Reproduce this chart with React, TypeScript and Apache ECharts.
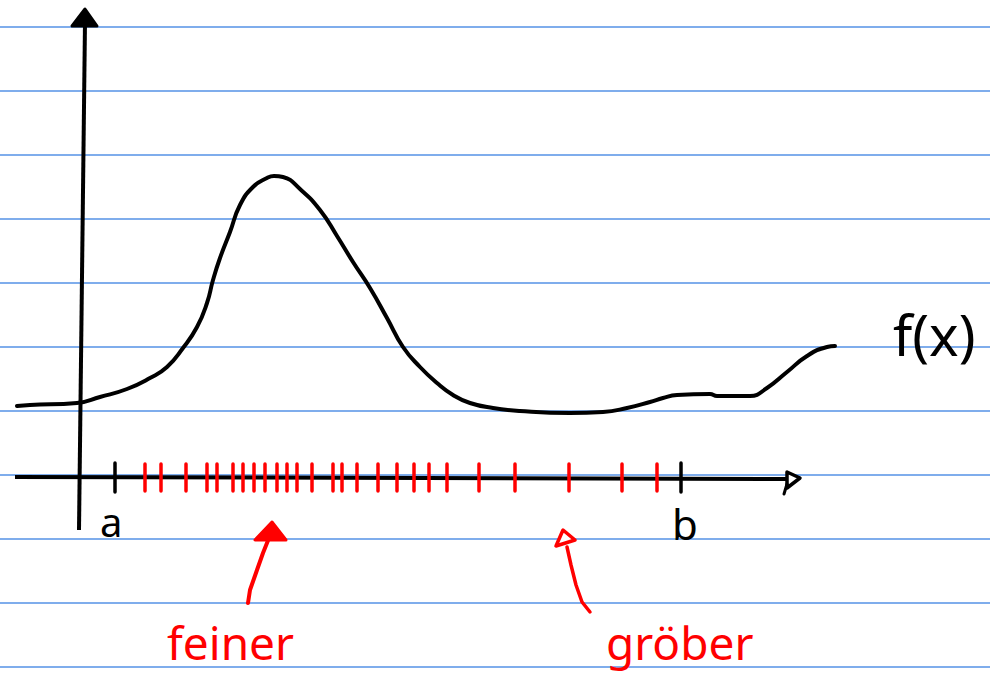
import React, { useEffect, useRef } from "react";
import * as echarts from "echarts";

// Ruled notebook lines (y positions, page units)
const ruledLines = [27, 91, 155, 219, 283, 347, 411, 475, 539, 603, 667];

// f(x) sketch curve
const curveX = [17, 30, 77, 100, 127, 150, 167, 183, 197, 207, 213, 220, 230, 240, 253, 267, 274, 283, 300, 320, 337, 353, 370, 387, 403, 420, 437, 453, 470, 493, 520, 570, 603, 627, 650, 663, 677, 710, 717, 750, 767, 787, 807, 827, 835];
const curveY = [406, 405, 403, 397, 389, 378, 367, 348, 327, 303, 280, 258, 232, 205, 187, 178, 176, 177, 189, 210, 236, 262, 288, 318, 347, 367, 383, 395, 403, 408, 411, 413, 412, 408, 402, 398, 395, 394, 396, 396, 388, 372, 356, 347, 346];

// Axes of the sketch
const xAxisLine = [[15, 477], [790, 479]];
const yAxisLine = [[85, 22], [79, 530]];

// Interval ends a and b
const boundTicks = [115, 681];
// Red subdivision ticks (finer on the left, coarser on the right)
const redTicks = [145, 161, 186, 207, 217, 233, 243, 254, 265, 277, 287, 297, 312, 333, 342, 357, 378, 397, 414, 429, 447, 479, 515, 569, 622, 657];

const tickSeries = (xs: number[], y0: number, y1: number, color: string, width: number, z: number) => ({
  type: "custom",
  silent: true,
  z,
  data: xs.map((x) => [x, y0, y1]),
  encode: { x: 0, y: [1, 2] },
  renderItem: (_params: any, api: any) => {
    const p0 = api.coord([api.value(0), api.value(1)]);
    const p1 = api.coord([api.value(0), api.value(2)]);
    return {
      type: "line",
      shape: { x1: p0[0], y1: p0[1], x2: p1[0], y2: p1[1] },
      style: { stroke: color, lineWidth: width, lineCap: "round" },
    };
  },
});

export default function App() {
  const ref = useRef<HTMLDivElement>(null);
  useEffect(() => {
    if (!ref.current) return;
    const chart = echarts.init(ref.current, undefined, { renderer: "svg" });
    const font = "'Noto Sans', sans-serif";
    chart.setOption({
      animation: false,
      backgroundColor: "#ffffff",
      grid: { left: 0, right: 0, top: 0, bottom: 0 },
      xAxis: { type: "value", min: 0, max: 990, show: false },
      yAxis: { type: "value", min: 0, max: 675, inverse: true, show: false },
      series: [
        {
          type: "custom",
          silent: true,
          z: 0,
          data: ruledLines.map((y) => [0, y, 990]),
          encode: { x: [0, 2], y: 1 },
          renderItem: (_p: any, api: any) => {
            const a = api.coord([api.value(0), api.value(1)]);
            const b = api.coord([api.value(2), api.value(1)]);
            return {
              type: "line",
              shape: { x1: a[0], y1: a[1], x2: b[0], y2: b[1] },
              style: { stroke: "#5592e6", lineWidth: 1.3 },
            };
          },
        },
        {
          type: "line",
          data: xAxisLine,
          symbol: "none",
          z: 3,
          lineStyle: { color: "#000", width: 4 },
        },
        {
          type: "line",
          data: yAxisLine,
          symbol: "none",
          z: 3,
          lineStyle: { color: "#000", width: 4 },
        },
        {
          type: "line",
          data: curveX.map((x, i) => [x, curveY[i]]),
          symbol: "none",
          smooth: 0.5,
          z: 4,
          lineStyle: { color: "#000", width: 4, cap: "round", join: "round" },
        },
        tickSeries(boundTicks, 463, 492, "#000", 3.5, 5),
        tickSeries(redTicks, 464, 491, "#ff0000", 3.5, 6),
      ],
      graphic: [
        // y-axis arrowhead
        { type: "polygon", shape: { points: [[85, 9], [72, 26], [97, 26]] }, style: { fill: "#000", stroke: "#000", lineWidth: 3, lineJoin: "round" }, z: 10 },
        // x-axis arrowhead
        { type: "polygon", shape: { points: [[787, 472], [800, 478], [787, 488]] }, style: { fill: "#fff", stroke: "#000", lineWidth: 3.5, lineJoin: "round" }, z: 10 },
        { type: "line", shape: { x1: 787, y1: 484, x2: 784, y2: 494 }, style: { stroke: "#000", lineWidth: 3, lineCap: "round" }, z: 10 },
        // labels
        { type: "text", x: 100, y: 541, style: { text: "a", font: `40px ${font}`, fill: "#000", textVerticalAlign: "bottom" }, z: 10 },
        { type: "text", x: 672, y: 544, style: { text: "b", font: `42px ${font}`, fill: "#000", textVerticalAlign: "bottom" }, z: 10 },
        { type: "text", x: 893, y: 362, style: { text: "f(x)", font: `56px ${font}`, fill: "#000", textVerticalAlign: "bottom" }, z: 10 },
        { type: "text", x: 167, y: 665, style: { text: "feiner", font: `46px ${font}`, fill: "#ff0000", textVerticalAlign: "bottom" }, z: 10 },
        { type: "text", x: 606, y: 665, style: { text: "gröber", font: `46px ${font}`, fill: "#ff0000", textVerticalAlign: "bottom" }, z: 10 },
        // red arrows
        { type: "polyline", shape: { points: [[248, 603], [250, 590], [257, 570], [263, 553], [269, 538]] }, style: { stroke: "#ff0000", lineWidth: 4, lineCap: "round", lineJoin: "round", fill: "none" }, z: 10 },
        { type: "polygon", shape: { points: [[272, 522], [255, 540], [286, 540]] }, style: { fill: "#ff0000", stroke: "#ff0000", lineWidth: 3, lineJoin: "round" }, z: 10 },
        { type: "polyline", shape: { points: [[590, 612], [582, 602], [576, 585], [571, 565], [567, 547]] }, style: { stroke: "#ff0000", lineWidth: 3.5, lineCap: "round", lineJoin: "round", fill: "none" }, z: 10 },
        { type: "polygon", shape: { points: [[563, 530], [556, 546], [575, 540]] }, style: { fill: "#fff", stroke: "#ff0000", lineWidth: 3.5, lineJoin: "round" }, z: 10 },
      ],
    });
    return () => chart.dispose();
  }, []);
  return (
    <div
      ref={ref}
      style={{ position: "absolute", left: 0, top: 0, width: 990, height: 675 }}
    />
  );
}
